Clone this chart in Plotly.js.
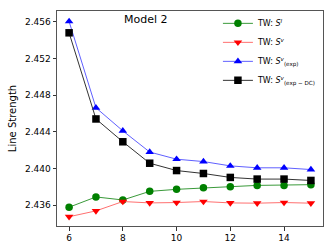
<!DOCTYPE html>
<html><head><meta charset="utf-8">
<script src="https://cdn.plot.ly/plotly-3.0.1.min.js"></script>
<style>html,body{margin:0;padding:0;background:#fff}#c{width:333px;height:250px}</style>
</head><body><div id="c"></div>
<script>
var xs = [6,7,8,9,10,11,12,13,14,15];
var sI = [2.43578,2.43690,2.43657,2.43751,2.43773,2.43791,2.43802,2.43816,2.43816,2.43824];
var sV = [2.43474,2.43538,2.43640,2.43625,2.43629,2.43640,2.43625,2.43622,2.43629,2.43622];
var sExp = [2.45605,2.44663,2.44411,2.44180,2.44102,2.44076,2.44029,2.44008,2.44008,2.43989];
var sExpDC = [2.45481,2.44541,2.44292,2.44058,2.43978,2.43946,2.43903,2.43885,2.43885,2.43870];
var names = ['TW: <i>S</i><sup><i>I</i></sup>','TW: <i>S</i><sup><i>v</i></sup>','TW: <i>S</i><sup><i>v</i></sup><sub>(exp)</sub>','TW: <i>S</i><sup><i>v</i></sup><sub>(exp − DC)</sub>'];
var yTicks = [2.436,2.440,2.444,2.448,2.452,2.456];
var xTicks = [6,8,10,12,14];

function tr(y,name,mc,lc,sym){
  return {x:xs,y:y,name:name,mode:'lines+markers',type:'scatter',
    line:{color:lc,width:1},marker:{color:mc,size:7.5,symbol:sym}};
}
var data = [
  tr(sI,names[0],'green','#3a9a3a','circle'),
  tr(sV,names[1],'red','#ff7070','triangle-down'),
  tr(sExp,names[2],'blue','#6060ff','triangle-up'),
  tr(sExpDC,names[3],'black','#333','square')
];
var layout = {
  width:333,height:250,
  margin:{l:57,r:10,t:9,b:24},
  paper_bgcolor:'#fff',plot_bgcolor:'#fff',
  font:{family:'DejaVu Sans',size:9,color:'#000'},
  showlegend:true,
  legend:{x:0.605,y:1.01,xanchor:'left',yanchor:'top',font:{size:8},bgcolor:'rgba(0,0,0,0)',tracegroupgap:0,itemwidth:30},
  xaxis:{range:[5.55,15.45],tickvals:xTicks,ticktext:xTicks.map(String),showgrid:false,zeroline:false,
    showline:true,mirror:true,linecolor:'#555',linewidth:1,ticks:'outside',ticklen:3.5,tickcolor:'#333',tickfont:{size:9}},
  yaxis:{range:[2.43373,2.45719],tickvals:yTicks,ticktext:yTicks.map(function(v){return v.toFixed(3);}),showgrid:false,zeroline:false,
    showline:true,mirror:true,linecolor:'#555',linewidth:1,ticks:'outside',ticklen:3.5,tickcolor:'#333',tickfont:{size:9},
    title:{text:'Line Strength',font:{size:10},standoff:6}},
  annotations:[{text:'Model 2',xref:'paper',yref:'paper',x:0.335,y:1,xanchor:'center',yanchor:'top',showarrow:false,font:{size:11},yshift:0}]
};
Plotly.newPlot('c',data,layout,{displayModeBar:false,staticPlot:true});
</script></body></html>
